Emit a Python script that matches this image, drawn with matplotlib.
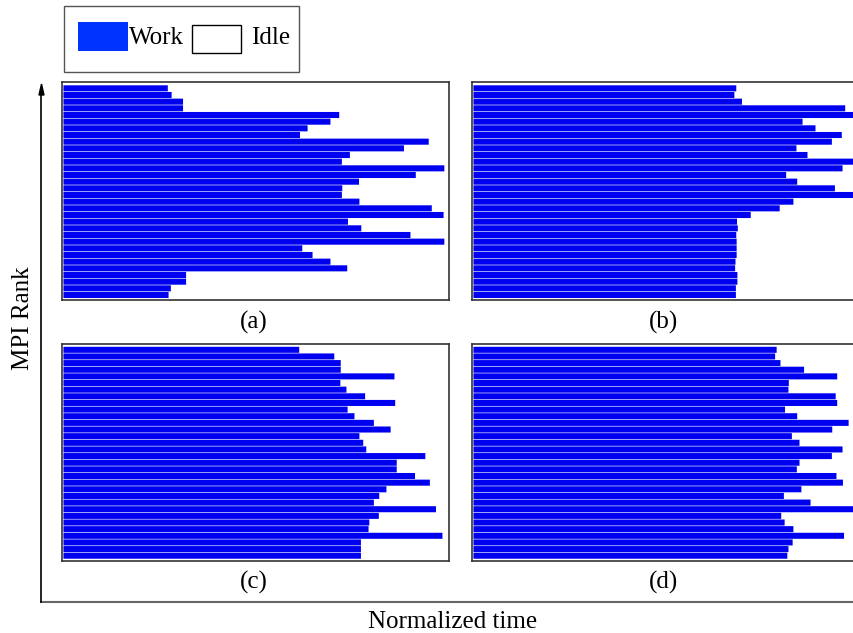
import matplotlib
matplotlib.use('Agg')
import matplotlib.pyplot as plt
from matplotlib.patches import Rectangle
from matplotlib.lines import Line2D

plt.rcParams['font.family'] = ['Liberation Serif', 'DejaVu Serif']

# normalized work time of each MPI rank (top rank first), 32 ranks per panel
work_a = [0.274, 0.284, 0.314, 0.314, 0.724, 0.701, 0.641, 0.621,
          0.959, 0.894, 0.752, 0.731, 1.000, 0.925, 0.776, 0.732,
          0.731, 0.777, 0.967, 0.998, 0.747, 0.782, 0.911, 1.000,
          0.627, 0.654, 0.701, 0.745, 0.322, 0.322, 0.282, 0.276]
work_b = [0.690, 0.685, 0.705, 0.976, 1.000, 0.864, 0.898, 0.967,
          0.941, 0.848, 0.877, 1.000, 0.969, 0.821, 0.850, 0.949,
          1.000, 0.840, 0.804, 0.728, 0.692, 0.694, 0.690, 0.691,
          0.691, 0.691, 0.688, 0.687, 0.693, 0.693, 0.689, 0.689]
work_c = [0.619, 0.711, 0.728, 0.728, 0.869, 0.727, 0.743, 0.792,
          0.871, 0.746, 0.764, 0.815, 0.859, 0.777, 0.787, 0.795,
          0.950, 0.875, 0.875, 0.923, 0.962, 0.848, 0.829, 0.815,
          0.978, 0.828, 0.803, 0.801, 0.995, 0.781, 0.781, 0.781]
work_d = [0.796, 0.792, 0.806, 0.868, 0.955, 0.828, 0.827, 0.951,
          0.955, 0.818, 0.850, 0.985, 0.942, 0.836, 0.856, 0.969,
          0.941, 0.856, 0.849, 0.953, 0.970, 0.861, 0.815, 0.885,
          0.999, 0.808, 0.817, 0.840, 0.973, 0.838, 0.827, 0.824]
panel_labels = ['(a)', '(b)', '(c)', '(d)']

W, H = 854, 633
fig = plt.figure(figsize=(W / 100, H / 100), dpi=100)


def fx(px):
    return px / W


def fy(py):
    return 1 - py / H


# (left, top, bottom) in pixels
boxes = [(62.3, 82, 300), (472.3, 82, 300),
         (62.3, 343.5, 560.7), (472.3, 343.5, 560.7)]
series = [work_a, work_b, work_c, work_d]

for (lx, ty, by), vals, lab in zip(boxes, series, panel_labels):
    ax = fig.add_axes([fx(lx), fy(by), 387 / W, (by - ty) / H])
    ranks = range(len(vals))
    ax.barh(ranks, vals, height=0.91, color='#0000f0', edgecolor='none',
            snap=False)
    ax.set_xlim(-0.003, 1.013)
    ax.set_ylim(31.75, -0.95)
    ax.set_xticks([])
    ax.set_yticks([])
    for s in ax.spines.values():
        s.set_color('#333333')
        s.set_linewidth(1.2)
    cx = lx + 387 / 2 - 2
    fig.text(fx(cx), fy(by + 22), lab, ha='center', va='center', fontsize=18)

# axis lines with arrow
fig.add_artist(Line2D([fx(41.5), 1.0], [fy(602), fy(602)],
                      color='#666666', lw=1.5))
fig.add_artist(Line2D([fx(41.5), fx(41.5)], [fy(602), fy(95)],
                      color='black', lw=1.2))
fig.patches.append(plt.Polygon([[fx(41.5), fy(84)], [fx(39), fy(95)],
                                [fx(44), fy(95)]], closed=True,
                               color='black', transform=fig.transFigure,
                               figure=fig))
fig.text(fx(453), fy(622), 'Normalized time', ha='center', va='center',
         fontsize=18)
fig.text(fx(23), fy(318), 'MPI Rank', ha='center', va='center',
         rotation=90, fontsize=18)

# legend
fig.patches.append(Rectangle((fx(64), fy(72)), 235 / W, 66 / H,
                             transform=fig.transFigure, figure=fig,
                             facecolor='white', edgecolor='#555555', lw=1))
fig.patches.append(Rectangle((fx(78), fy(51)), 50 / W, 29 / H,
                             transform=fig.transFigure, figure=fig,
                             facecolor='#0033ff', edgecolor='none'))
fig.text(fx(129), fy(38), 'Work', ha='left', va='center', fontsize=18)
fig.patches.append(Rectangle((fx(192), fy(53)), 49 / W, 28 / H,
                             transform=fig.transFigure, figure=fig,
                             facecolor='white', edgecolor='black', lw=1))
fig.text(fx(251), fy(38), 'Idle', ha='left', va='center', fontsize=18)

fig.savefig('out.png', dpi=100)
